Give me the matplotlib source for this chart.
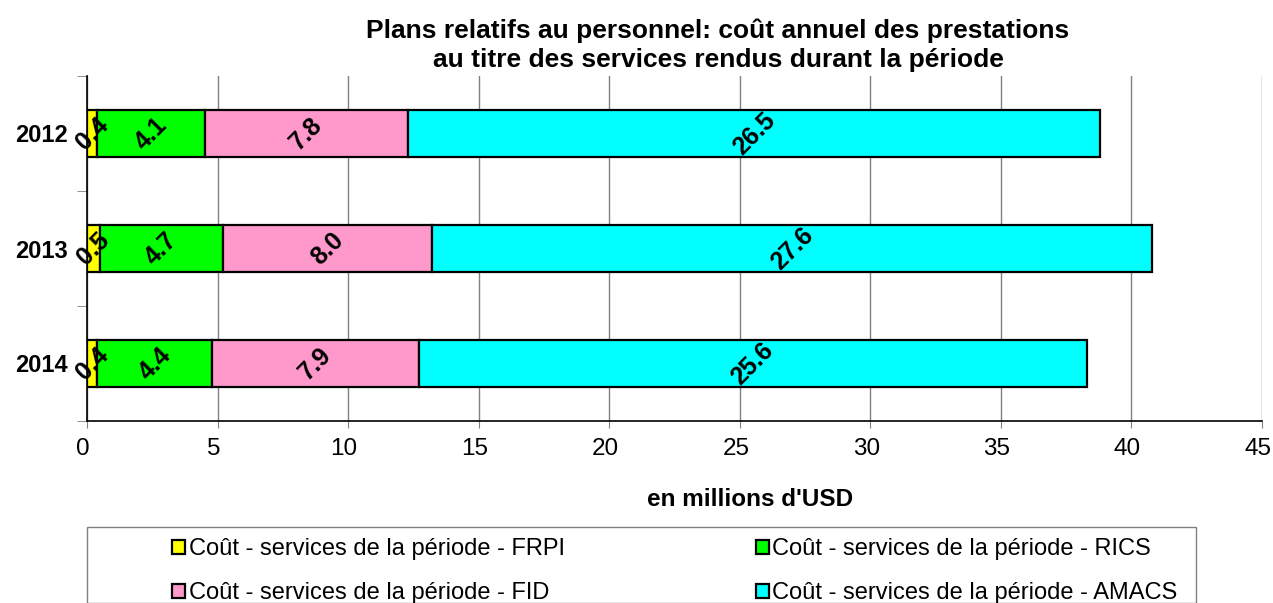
import matplotlib.pyplot as plt
import matplotlib.transforms as mtransforms
from matplotlib.patches import Rectangle

plt.rcParams['font.family'] = ['Liberation Sans', 'DejaVu Sans']

years = ['2012', '2013', '2014']
series_names = ['Coût - services de la période - FRPI',
                'Coût - services de la période - RICS',
                'Coût - services de la période - FID',
                'Coût - services de la période - AMACS']
frpi = [0.4, 0.5, 0.4]
rics = [4.1, 4.7, 4.4]
fid = [7.8, 8.0, 7.9]
amacs = [26.5, 27.6, 25.6]
colors = ['#FFFF00', '#00FF00', '#FF99CC', '#00FFFF']

fig = plt.figure(figsize=(12.73, 6.03), dpi=100)
ax = fig.add_axes([87 / 1273, 1 - 421 / 603, (1262 - 87) / 1273, (421 - 76) / 603])

ypos = list(range(len(years)))
left = [0.0] * len(years)
bars = []
for vals, name, col in zip([frpi, rics, fid, amacs], series_names, colors):
    b = ax.barh(ypos, vals, left=left, height=0.41, color=col,
                edgecolor='black', linewidth=1.6, label=name, zorder=3)
    bars.append(b)
    for y, v, l in zip(ypos, vals, left):
        ax.text(l + v / 2, y, f'{v:.1f}', rotation=45, ha='center', va='center',
                fontsize=18, fontweight='bold', zorder=4)
    left = [l + v for l, v in zip(left, vals)]

ax.set_xlim(0, 45)
ax.set_ylim(2.5, -0.5)
ax.set_xticks(range(0, 46, 5))
ax.tick_params(axis='x', labelsize=17.5, length=5, color='#808080', pad=7)
# labels sit a little left of their ticks in the original
shift = mtransforms.ScaledTranslation(-4 / 100, 0, fig.dpi_scale_trans)
for lab in ax.get_xticklabels():
    lab.set_transform(lab.get_transform() + shift)
ax.set_yticks(ypos)
ax.set_yticklabels(years, fontsize=17, fontweight='bold')
ax.tick_params(axis='y', length=0, pad=14)
ax.set_yticks([-0.5, 0.5, 1.5, 2.5], minor=True)
ax.tick_params(axis='y', which='minor', length=7, color='#808080')
ax.grid(axis='x', color='#808080', linewidth=1, zorder=0)
for s in ['top', 'right']:
    ax.spines[s].set_visible(False)
ax.spines['left'].set_linewidth(1.2)
ax.spines['bottom'].set_linewidth(1.2)

ax.set_xlabel("en millions d'USD", fontsize=17.5, fontweight='bold')
ax.xaxis.set_label_coords((750 - 87) / (1262 - 87), -(500 - 421) / (421 - 76))
ax.xaxis.label.set_va('center')

fig.text(718 / 1273, 1 - 45 / 603,
         'Plans relatifs au personnel: coût annuel des prestations\n'
         'au titre des services rendus durant la période',
         ha='center', va='center', fontsize=19, fontweight='bold', linespacing=1.25)

# legend frame
fig.patches.append(Rectangle((87 / 1273, 0), (1196 - 87) / 1273, 1 - 527 / 603,
                             transform=fig.transFigure, fill=False,
                             edgecolor='#808080', linewidth=1))
handles = [bars[0], bars[2], bars[1], bars[3]]
labels = [series_names[0], series_names[2], series_names[1], series_names[3]]
fig.legend(handles, labels, ncol=2, frameon=False, fontsize=17,
           loc='upper left', bbox_to_anchor=(172 / 1273, 1 - 538 / 603),
           handlelength=0.55, handleheight=0.55, handletextpad=0.15,
           columnspacing=8.1, labelspacing=0.95, borderaxespad=0, borderpad=0)

fig.savefig('out.png', dpi=100)
